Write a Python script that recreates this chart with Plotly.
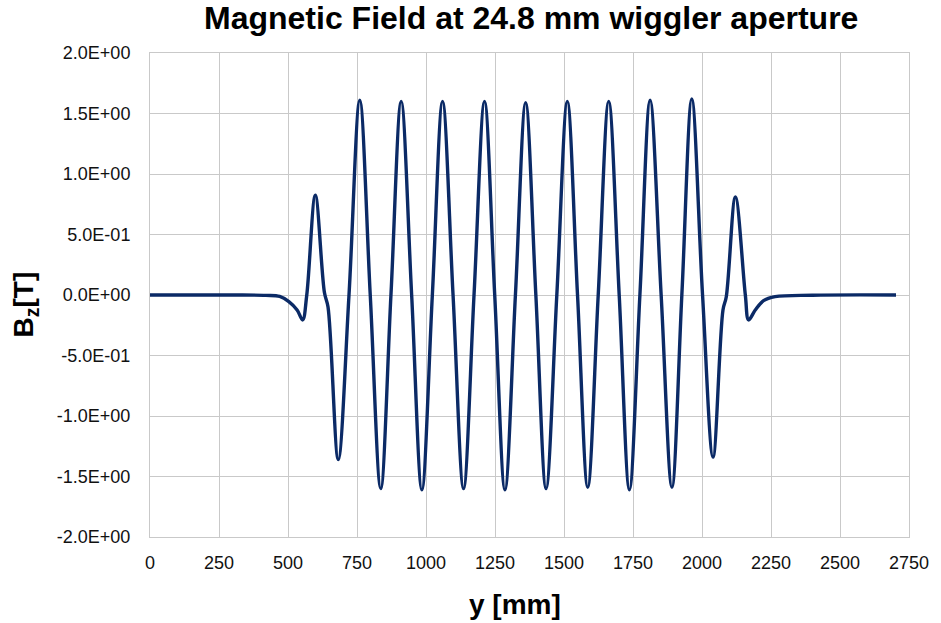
import plotly.graph_objects as go

# Field profile (y in mm, Bz in T)
y_mm = [0, 300, 420, 470, 503, 533, 553, 568, 599, 632, 645, 682,
        721, 760, 798, 836, 873, 910, 948, 985, 1023, 1060, 1098, 1136,
        1174, 1212, 1249, 1286, 1324, 1361, 1398, 1435, 1474, 1512, 1549,
        1586, 1624, 1662, 1700, 1737, 1775, 1812, 1852, 1891, 1927, 1963,
        2002, 2040, 2076, 2088, 2121, 2157, 2169, 2193, 2223, 2265, 2400, 2703]
bz_T = [0.0, 0.0, -0.003, -0.012, -0.055, -0.124, -0.206, 0.0, 0.824, 0.02, -0.1, -1.36,
        0.0, 1.61, 0.0, -1.60, 0.0, 1.60, 0.0, -1.61, 0.0, 1.60, 0.0, -1.60,
        0.0, 1.60, 0.0, -1.61, 0.0, 1.59, 0.0, -1.60, 0.0, 1.60, 0.0,
        -1.59, 0.0, 1.60, 0.0, -1.61, 0.0, 1.61, 0.0, -1.59, 0.0, 1.62,
        0.0, -1.34, -0.124, -0.014, 0.81, 0.0, -0.206, -0.124, -0.047, -0.014, -0.002, 0.0]

x_ticks = [0, 250, 500, 750, 1000, 1250, 1500, 1750, 2000, 2250, 2500, 2750]
y_ticks = [-2.0, -1.5, -1.0, -0.5, 0.0, 0.5, 1.0, 1.5, 2.0]
y_tick_text = ["-2.0E+00", "-1.5E+00", "-1.0E+00", "-5.0E-01", "0.0E+00",
               "5.0E-01", "1.0E+00", "1.5E+00", "2.0E+00"]

title_text = "Magnetic Field at 24.8 mm wiggler aperture"
x_title = "y [mm]"
y_title = "B<sub>z</sub>[T]"

fig = go.Figure()
fig.add_trace(go.Scatter(
    x=y_mm, y=bz_T, mode="lines",
    line=dict(color="#0b2a66", width=3.4, shape="spline", smoothing=1.0),
    showlegend=False, hoverinfo="x+y"))

grid = "#c9c9c9"
font_family = "Liberation Sans, Arial, sans-serif"
fig.update_layout(
    width=941, height=623,
    margin=dict(l=150, r=26, t=53, b=86),
    paper_bgcolor="white", plot_bgcolor="white",
    font=dict(family=font_family, color="#111111", size=18),
    xaxis=dict(range=[0, 2750], tickvals=x_ticks, ticktext=[str(v) for v in x_ticks],
               showgrid=True, gridcolor=grid, gridwidth=1, zeroline=False,
               showline=True, linecolor=grid, linewidth=1, mirror=True,
               ticks="", ticklabelstandoff=9, tickfont=dict(size=18, color="#111111")),
    yaxis=dict(range=[-2.0, 2.0], tickvals=y_ticks, ticktext=y_tick_text,
               showgrid=True, gridcolor=grid, gridwidth=1, zeroline=False,
               showline=True, linecolor=grid, linewidth=1, mirror=True,
               ticks="", ticklabelstandoff=15, tickfont=dict(size=18, color="#111111")),
    annotations=[
        dict(text="<b>" + title_text + "</b>", xref="paper", yref="paper",
             x=(533.7 - 150) / 765, y=(537 - 18) / 484, xanchor="center", yanchor="middle",
             showarrow=False, font=dict(size=32, color="#000000", family=font_family)),
        dict(text="<b>" + x_title + "</b>", xref="paper", yref="paper",
             x=(518 - 150) / 765, y=(537 - 604) / 484, xanchor="center", yanchor="middle",
             showarrow=False, font=dict(size=28, color="#000000", family=font_family)),
        dict(text="<b>" + y_title + "</b>", xref="paper", yref="paper",
             x=(24.5 - 150) / 765, y=(537 - 304) / 484, xanchor="center", yanchor="middle",
             textangle=-90, showarrow=False,
             font=dict(size=28, color="#000000", family=font_family)),
    ],
)

fig.write_html("out.html")
